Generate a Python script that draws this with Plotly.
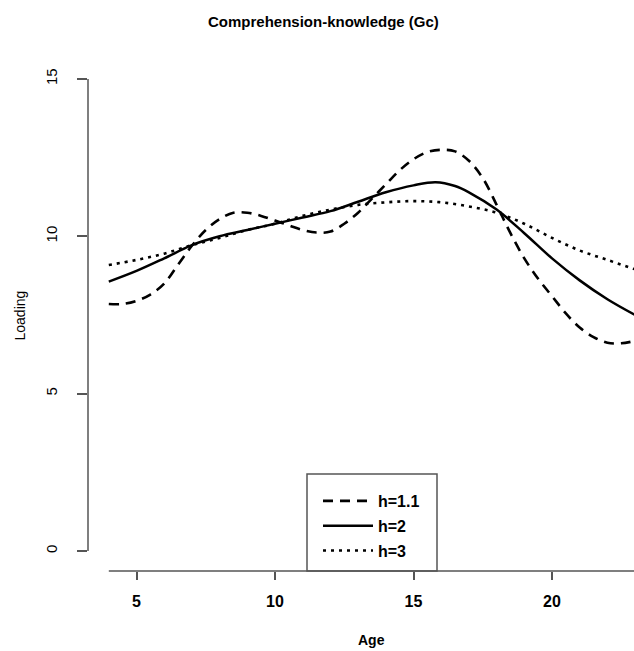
import plotly.graph_objects as go

# ---- data ----
age_h11 = [4, 4.5, 5, 5.5, 6, 6.5, 7, 7.5, 8, 8.5, 9, 9.5, 10, 10.5, 11, 11.5, 12, 12.5,
           13, 13.5, 14, 14.5, 15, 15.5, 16, 16.5, 17, 17.5, 18, 18.5, 19, 19.5, 20, 20.5,
           21, 21.5, 22, 22.5, 23]
load_h11 = [7.85, 7.85, 7.95, 8.15, 8.5, 9.1, 9.7, 10.2, 10.55, 10.75, 10.75, 10.65, 10.5,
            10.35, 10.2, 10.12, 10.15, 10.4, 10.75, 11.2, 11.65, 12.1, 12.45, 12.68, 12.75,
            12.7, 12.4, 11.85, 11.0, 10.1, 9.3, 8.65, 8.1, 7.55, 7.1, 6.8, 6.62, 6.6, 6.68]

age_h2 = [4, 5, 6, 7, 8, 9, 10, 11, 12, 13, 14, 15, 15.8, 16.5, 17, 18, 19, 20, 21, 22, 23]
load_h2 = [8.56, 8.9, 9.3, 9.72, 10.0, 10.2, 10.4, 10.6, 10.8, 11.1, 11.4, 11.62, 11.72,
           11.6, 11.4, 10.85, 10.1, 9.3, 8.6, 8.0, 7.5]

age_h3 = [4, 5, 6, 7, 8, 9, 10, 11, 12, 13, 14, 15, 16, 17, 18, 19, 20, 21, 22, 23]
load_h3 = [9.09, 9.25, 9.45, 9.72, 9.95, 10.2, 10.4, 10.65, 10.85, 11.0, 11.08, 11.12,
           11.08, 10.95, 10.75, 10.4, 9.95, 9.55, 9.25, 8.95]

x_ticks = [5, 10, 15, 20]
y_ticks = [0, 5, 10, 15]
series_names = ["h=1.1", "h=2", "h=3"]

title_text = "Comprehension-knowledge (Gc)"
x_title = "Age"
y_title = "Loading"

FONT = "Liberation Sans, Arial, sans-serif"
AXC = "#555555"

fig = go.Figure()
styles = [
    dict(dash="10px,7px", width=2.6),
    dict(dash="solid", width=2.5),
    dict(dash="3px,5px", width=2.6),
]
for i, (xs, ys) in enumerate([(age_h11, load_h11), (age_h2, load_h2), (age_h3, load_h3)]):
    fig.add_trace(go.Scatter(
        x=xs, y=ys, mode="lines", name=series_names[i], legendgroup=f"g{i}",
        line=dict(color="black", shape="spline", smoothing=1.0, **styles[i]),
    ))

fig.update_layout(
    width=634, height=651,
    margin=dict(l=88, r=0, t=60, b=80),
    paper_bgcolor="white", plot_bgcolor="white",
    showlegend=True,
    legend=dict(
        x=(318 - 88) / 546, y=(571 - 484) / 511, xanchor="left", yanchor="top",
        bgcolor="rgba(0,0,0,0)", borderwidth=0,
        font=dict(family=FONT, size=16, color="black", weight="bold"),
        traceorder="grouped", tracegroupgap=1, itemwidth=50,
    ),
    xaxis=dict(
        range=[3.249, 22.96], tickvals=x_ticks, ticktext=[str(v) for v in x_ticks],
        ticks="outside", ticklen=8, tickwidth=1.5, tickcolor=AXC,
        showline=False, showgrid=False, zeroline=False,
        tickfont=dict(family=FONT, size=16, color="black", weight="bold"),
        ticklabelstandoff=8,
    ),
    yaxis=dict(
        range=[-0.636, 15.604], tickvals=y_ticks, ticktext=[str(v) for v in y_ticks],
        ticks="outside", ticklen=10, tickwidth=1.5, tickcolor=AXC, tickangle=-90,
        showline=False, showgrid=False, zeroline=False,
        tickfont=dict(family=FONT, size=15, color="black"),
        ticklabelstandoff=14,
    ),
    annotations=[
        dict(text=title_text, xref="paper", yref="paper", x=(323 - 88) / 546, y=1 + (60 - 22) / 511,
             showarrow=False, xanchor="center", yanchor="middle",
             font=dict(family=FONT, size=15, color="black", weight="bold")),
        dict(text=x_title, xref="paper", yref="paper", x=(371 - 88) / 546, y=-(640 - 571) / 511,
             showarrow=False, xanchor="center", yanchor="middle",
             font=dict(family=FONT, size=14, color="black", weight="bold")),
        dict(text=y_title, xref="paper", yref="paper", x=-(88 - 19) / 546, y=0.5, textangle=-90,
             showarrow=False, xanchor="center", yanchor="middle",
             font=dict(family=FONT, size=14, color="black")),
    ],
    shapes=[
        # y axis line (from 0 to 15)
        dict(type="line", xref="paper", yref="y", x0=0, x1=0, y0=0, y1=15,
             line=dict(color=AXC, width=1.5)),
        # x axis line (data span)
        dict(type="line", xref="x", yref="paper", x0=4, x1=23, y0=0, y1=0,
             line=dict(color=AXC, width=1.5)),
        # legend box
        dict(type="rect", xref="paper", yref="paper", x0=(307 - 88) / 546, x1=(437 - 88) / 546,
             y0=0, y1=(571 - 474) / 511, line=dict(color=AXC, width=1.5),
             fillcolor="rgba(0,0,0,0)"),
    ],
)

fig.write_html("out.html")
